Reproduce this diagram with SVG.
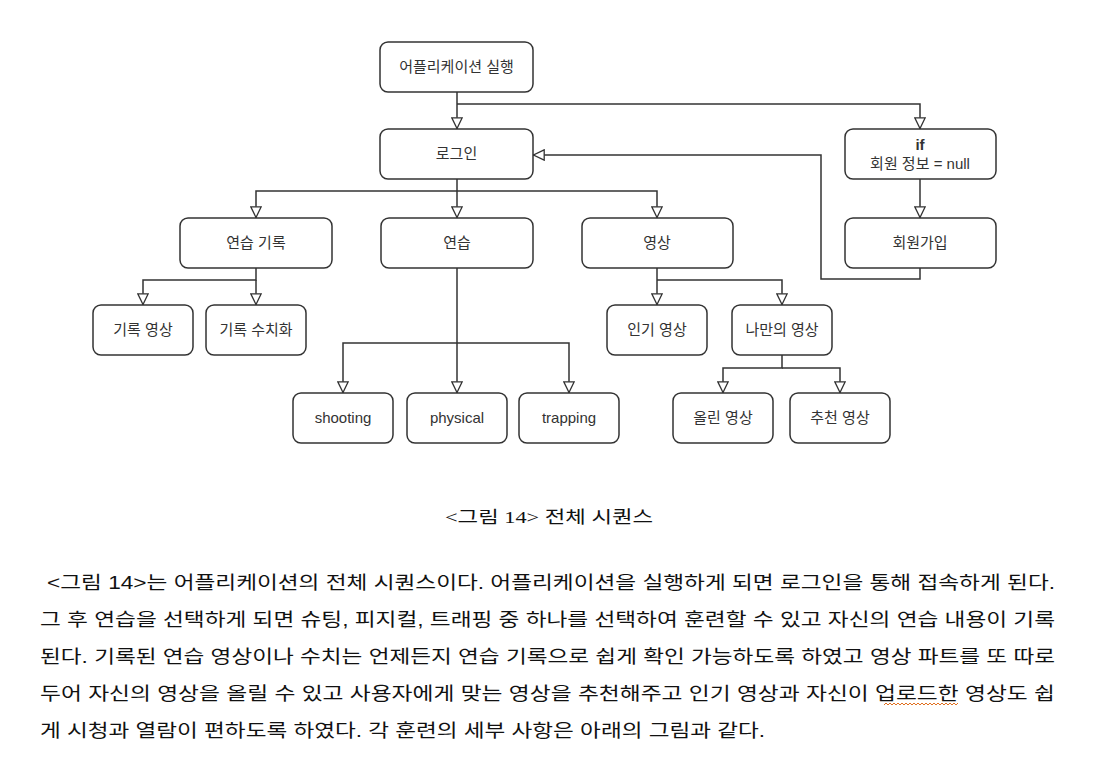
<svg xmlns="http://www.w3.org/2000/svg" width="1093" height="779" viewBox="0 0 1093 779">
<style>
.box{fill:#fff;stroke:#333;stroke-width:1.5}
.lbl{font-family:"Liberation Sans","Noto Sans CJK KR",sans-serif;font-size:15px;fill:#333;text-anchor:middle}
.con{fill:none;stroke:#333;stroke-width:1.5}
.para{font-family:"Liberation Sans","Noto Sans CJK KR",sans-serif;font-size:18px;fill:#111}
.cap{font-family:"Liberation Serif","Noto Sans CJK KR",serif;font-size:17px;fill:#111}
</style>
<defs>
<marker id="tri" viewBox="0 0 12 12" refX="12" refY="6" markerWidth="12" markerHeight="12" markerUnits="userSpaceOnUse" orient="auto">
<path d="M0.8,0.8 L11.5,6 L0.8,11.2 z" fill="#fff" stroke="#333" stroke-width="1.3"/>
</marker>
</defs>
<rect width="1093" height="779" fill="#fff"/>
<g id="connectors">
<path class="con" d="M457,92 V129" marker-end="url(#tri)"/>
<path class="con" d="M457,104 H920 V129" marker-end="url(#tri)"/>
<path class="con" d="M920,179 V218" marker-end="url(#tri)"/>
<path class="con" d="M920,268 V279 H821 V155 H533" marker-end="url(#tri)"/>
<path class="con" d="M457,179 V218" marker-end="url(#tri)"/>
<path class="con" d="M457,191 H256 V218" marker-end="url(#tri)"/>
<path class="con" d="M457,191 H657 V218" marker-end="url(#tri)"/>
<path class="con" d="M256,268 V280 H143 V305" marker-end="url(#tri)"/>
<path class="con" d="M256,280 V305" marker-end="url(#tri)"/>
<path class="con" d="M457,268 V393" marker-end="url(#tri)"/>
<path class="con" d="M457,343 H343 V393" marker-end="url(#tri)"/>
<path class="con" d="M457,343 H569 V393" marker-end="url(#tri)"/>
<path class="con" d="M657,268 V305" marker-end="url(#tri)"/>
<path class="con" d="M657,280 H782 V305" marker-end="url(#tri)"/>
<path class="con" d="M782,355 V368 H723 V393" marker-end="url(#tri)"/>
<path class="con" d="M782,368 H840 V393" marker-end="url(#tri)"/>
</g>
<g id="app"><rect class="box" x="380" y="42" width="153" height="50" rx="8"/><text class="lbl" x="456.5" y="72">어플리케이션 실행</text></g>
<g id="login"><rect class="box" x="380" y="129" width="153" height="50" rx="8"/><text class="lbl" x="456.5" y="159">로그인</text></g>
<g id="ifnode"><rect class="box" x="845" y="129" width="151" height="50" rx="8"/><text class="lbl" x="920" y="150" font-weight="bold">if</text><text class="lbl" x="920" y="169">회원 정보 = null</text></g>
<g id="join"><rect class="box" x="845" y="218" width="151" height="50" rx="8"/><text class="lbl" x="920" y="248">회원가입</text></g>
<g id="record"><rect class="box" x="180" y="218" width="152" height="50" rx="8"/><text class="lbl" x="256" y="248">연습 기록</text></g>
<g id="practice"><rect class="box" x="381" y="218" width="152" height="50" rx="8"/><text class="lbl" x="457" y="248">연습</text></g>
<g id="video"><rect class="box" x="582" y="218" width="151" height="50" rx="8"/><text class="lbl" x="657" y="248">영상</text></g>
<g id="recvideo"><rect class="box" x="93" y="305" width="100" height="50" rx="8"/><text class="lbl" x="143" y="335">기록 영상</text></g>
<g id="recnum"><rect class="box" x="206" y="305" width="100" height="50" rx="8"/><text class="lbl" x="256" y="335">기록 수치화</text></g>
<g id="shooting"><rect class="box" x="293" y="393" width="100" height="50" rx="8"/><text class="lbl" x="343" y="423">shooting</text></g>
<g id="physical"><rect class="box" x="407" y="393" width="100" height="50" rx="8"/><text class="lbl" x="457" y="423">physical</text></g>
<g id="trapping"><rect class="box" x="519" y="393" width="100" height="50" rx="8"/><text class="lbl" x="569" y="423">trapping</text></g>
<g id="popular"><rect class="box" x="607" y="305" width="100" height="50" rx="8"/><text class="lbl" x="657" y="335">인기 영상</text></g>
<g id="myvideo"><rect class="box" x="732" y="305" width="100" height="50" rx="8"/><text class="lbl" x="782" y="335">나만의 영상</text></g>
<g id="uploaded"><rect class="box" x="673" y="393" width="100" height="50" rx="8"/><text class="lbl" x="723" y="423">올린 영상</text></g>
<g id="recommend"><rect class="box" x="790" y="393" width="100" height="50" rx="8"/><text class="lbl" x="840" y="423">추천 영상</text></g>
<text class="cap" x="445" y="523" textLength="208" lengthAdjust="spacingAndGlyphs">&lt;그림 14&gt; 전체 시퀀스</text>
<g id="paragraph">
<text class="para" x="47" y="589" textLength="1008" lengthAdjust="spacingAndGlyphs">&lt;그림 14&gt;는 어플리케이션의 전체 시퀀스이다. 어플리케이션을 실행하게 되면 로그인을 통해 접속하게 된다.</text>
<text class="para" x="40" y="626" textLength="1015" lengthAdjust="spacingAndGlyphs">그 후 연습을 선택하게 되면 슈팅, 피지컬, 트래핑 중 하나를 선택하여 훈련할 수 있고 자신의 연습 내용이 기록</text>
<text class="para" x="40" y="663" textLength="1015" lengthAdjust="spacingAndGlyphs">된다. 기록된 연습 영상이나 수치는 언제든지 연습 기록으로 쉽게 확인 가능하도록 하였고 영상 파트를 또 따로</text>
<text class="para" x="40" y="700" textLength="1015" lengthAdjust="spacingAndGlyphs">두어 자신의 영상을 올릴 수 있고 사용자에게 맞는 영상을 추천해주고 인기 영상과 자신이 업로드한 영상도 쉽</text>
<text class="para" x="40" y="737" textLength="725" lengthAdjust="spacingAndGlyphs">게 시청과 열람이 편하도록 하였다. 각 훈련의 세부 사항은 아래의 그림과 같다.</text>
<path d="M884,705 l2,-2 l2,2 l2,-2 l2,2 l2,-2 l2,2 l2,-2 l2,2 l2,-2 l2,2 l2,-2 l2,2 l2,-2 l2,2 l2,-2 l2,2 l2,-2 l2,2 l2,-2 l2,2 l2,-2 l2,2 l2,-2 l2,2 l2,-2 l2,2 l2,-2 l2,2 l2,-2 l2,2 l2,-2 l2,2 l2,-2 l2,2 l2,-2 l2,2 l2,-2" fill="none" stroke="#e07020" stroke-width="1"/>
</g>
</svg>
